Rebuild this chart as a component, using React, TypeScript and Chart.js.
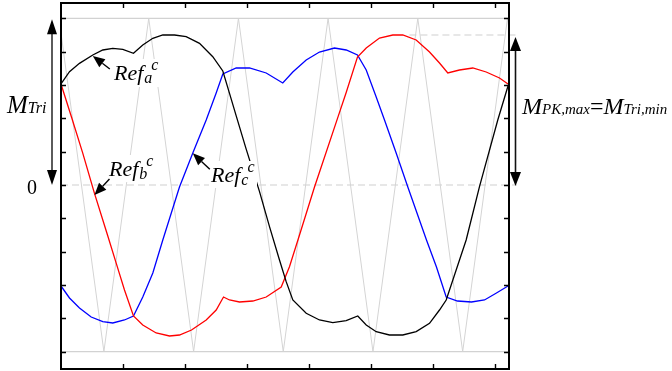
import React, { useEffect, useRef } from "react";
import { Chart, registerables } from "chart.js";

Chart.register(...registerables);

// ---- data (x: carrier-tick units, y: per-unit modulation) ----
const refAX = [0, 0.137, 0.298, 0.513, 0.674, 0.835, 0.997, 1.169, 1.319, 1.481, 1.642, 1.831, 2.019, 2.234, 2.448, 2.61, 2.718, 2.826, 2.987, 3.202, 3.363, 3.524, 3.632, 3.739, 3.955, 4.169, 4.384, 4.6, 4.787, 4.923, 5.084, 5.298, 5.513, 5.729, 5.944, 6.105, 6.213, 6.535, 6.75, 7.045, 7.21];
const refAY = [0.606, 0.68, 0.73, 0.78, 0.81, 0.82, 0.814, 0.79, 0.84, 0.88, 0.9, 0.9, 0.89, 0.85, 0.77, 0.684, 0.55, 0.415, 0.215, -0.04, -0.25, -0.45, -0.58, -0.69, -0.77, -0.81, -0.826, -0.814, -0.786, -0.84, -0.88, -0.9, -0.9, -0.88, -0.83, -0.75, -0.69, -0.33, -0.01, 0.39, 0.594];

const refBX = [0, 0.169, 0.352, 0.54, 0.75, 0.895, 1.024, 1.169, 1.319, 1.535, 1.75, 1.911, 2.105, 2.342, 2.503, 2.621, 2.718, 2.879, 3.094, 3.31, 3.552, 3.685, 3.847, 4.089, 4.46, 4.6, 4.782, 4.923, 5.137, 5.352, 5.513, 5.729, 5.944, 6.105, 6.239, 6.427, 6.642, 6.858, 7.073, 7.21];
const refBY = [0.606, 0.408, 0.19, -0.05, -0.3, -0.475, -0.63, -0.786, -0.84, -0.888, -0.906, -0.9, -0.87, -0.81, -0.75, -0.672, -0.69, -0.702, -0.696, -0.672, -0.612, -0.49, -0.3, -0.012, 0.4, 0.555, 0.768, 0.822, 0.882, 0.9, 0.9, 0.87, 0.798, 0.732, 0.672, 0.69, 0.702, 0.678, 0.642, 0.606];

const refCX = [0, 0.137, 0.298, 0.487, 0.674, 0.835, 1.024, 1.169, 1.319, 1.481, 1.642, 1.911, 2.126, 2.342, 2.503, 2.61, 2.826, 3.04, 3.31, 3.577, 3.739, 3.955, 4.169, 4.411, 4.6, 4.782, 4.923, 5.084, 5.218, 5.406, 5.594, 5.895, 6.056, 6.213, 6.395, 6.621, 6.831, 7.024, 7.21];
const refCY = [-0.606, -0.678, -0.738, -0.792, -0.82, -0.828, -0.81, -0.786, -0.672, -0.528, -0.33, -0.012, 0.192, 0.39, 0.552, 0.666, 0.702, 0.702, 0.672, 0.612, 0.678, 0.75, 0.798, 0.822, 0.81, 0.78, 0.69, 0.528, 0.39, 0.192, -0.012, -0.33, -0.492, -0.672, -0.696, -0.702, -0.69, -0.648, -0.606];

const carrierX = [-0.756, -0.032, 0.692, 1.415, 2.139, 2.862, 3.585, 4.308, 5.032, 5.755, 6.479, 7.202, 7.926];
const carrierY = [-1, 1, -1, 1, -1, 1, -1, 1, -1, 1, -1, 1, -1];

const xTicks = [1, 2, 3, 4, 5, 6, 7];
const yTicks = [-1, -0.8, -0.6, -0.4, -0.2, 0, 0.2, 0.4, 0.6, 0.8, 1];

const X_MIN = 0;
const X_MAX = 7.226;
const Y_MIN = -1.104;
const Y_MAX = 1.092;
const triLevel = 1;
const peakLevel = 0.9;
const peakDashFromX = 5.62;

// label anchors (tips of annotation arrows, in data units)
const tipA = { x: 0.513, y: 0.78 };
const tipB = { x: 0.54, y: -0.06 };
const tipC = { x: 2.126, y: 0.19 };

const SERIF = '"Liberation Serif", "Times New Roman", serif';

type Run = { t: string; size: number; dy?: number; dx?: number; upright?: boolean };

function drawRuns(ctx: CanvasRenderingContext2D, runs: Run[], x: number, y: number) {
  let cx = x;
  ctx.textBaseline = "alphabetic";
  ctx.textAlign = "left";
  for (const r of runs) {
    ctx.font = `${r.upright ? "" : "italic "}${r.size}px ${SERIF}`;
    cx += r.dx || 0;
    ctx.fillText(r.t, cx, y + (r.dy || 0));
    cx += ctx.measureText(r.t).width;
  }
}

function arrowHead(ctx: CanvasRenderingContext2D, tx: number, ty: number, fx: number, fy: number, len: number, w: number) {
  const ang = Math.atan2(ty - fy, tx - fx);
  const bx = tx - Math.cos(ang) * len;
  const by = ty - Math.sin(ang) * len;
  const nx = -Math.sin(ang) * (w / 2);
  const ny = Math.cos(ang) * (w / 2);
  ctx.beginPath();
  ctx.moveTo(tx, ty);
  ctx.lineTo(bx + nx, by + ny);
  ctx.lineTo(bx - nx, by - ny);
  ctx.closePath();
  ctx.fill();
  return { bx, by };
}

function arrow(ctx: CanvasRenderingContext2D, tx: number, ty: number, fx: number, fy: number, len: number, w: number) {
  ctx.save();
  ctx.fillStyle = "#000";
  ctx.strokeStyle = "#000";
  ctx.lineWidth = 1.4;
  const { bx, by } = arrowHead(ctx, tx, ty, fx, fy, len, w);
  ctx.beginPath();
  ctx.moveTo(bx, by);
  ctx.lineTo(fx, fy);
  ctx.stroke();
  ctx.restore();
}

const decorPlugin = {
  id: "decor",
  beforeDatasetsDraw(chart: any) {
    const { ctx, chartArea: a, scales } = chart;
    const xs = scales.x, ys = scales.y;
    ctx.save();
    ctx.strokeStyle = "#d2d2d2";
    ctx.lineWidth = 1.2;
    for (const v of [triLevel, -triLevel]) {
      const py = ys.getPixelForValue(v);
      ctx.beginPath();
      ctx.moveTo(a.left, py);
      ctx.lineTo(a.right, py);
      ctx.stroke();
    }
    ctx.setLineDash([7, 4]);
    ctx.strokeStyle = "#cfcfcf";
    ctx.lineWidth = 1;
    let py = ys.getPixelForValue(0);
    ctx.beginPath();
    ctx.moveTo(a.left, py);
    ctx.lineTo(a.right + 8, py);
    ctx.stroke();
    py = ys.getPixelForValue(peakLevel);
    ctx.beginPath();
    ctx.moveTo(xs.getPixelForValue(peakDashFromX), py);
    ctx.lineTo(a.right + 8, py);
    ctx.stroke();
    ctx.restore();
  },
  afterDatasetsDraw(chart: any) {
    const { ctx, chartArea: a, scales } = chart;
    const xs = scales.x, ys = scales.y;
    ctx.save();
    ctx.strokeStyle = "#000";
    ctx.lineWidth = 2;
    ctx.strokeRect(a.left, a.top, a.right - a.left, a.bottom - a.top);
    ctx.lineWidth = 1.4;
    ctx.beginPath();
    for (const t of xTicks) {
      const px = Math.round(xs.getPixelForValue(t)) + 0.5;
      ctx.moveTo(px, a.top);
      ctx.lineTo(px, a.top + 5);
      ctx.moveTo(px, a.bottom);
      ctx.lineTo(px, a.bottom - 5);
    }
    for (const t of yTicks) {
      const py = Math.round(ys.getPixelForValue(t)) + 0.5;
      ctx.moveTo(a.left, py);
      ctx.lineTo(a.left + 5, py);
      ctx.moveTo(a.right, py);
      ctx.lineTo(a.right - 5, py);
    }
    ctx.stroke();

    // label boxes (white background)
    ctx.fillStyle = "#fff";
    ctx.fillRect(112, 59, 50, 28);
    ctx.fillRect(107, 155, 50, 27);
    ctx.fillRect(209, 161, 48, 27);

    ctx.fillStyle = "#000";
    drawRuns(ctx, [{ t: "Ref", size: 22 }, { t: "a", size: 16, dy: 3, dx: 1 }, { t: "c", size: 16, dy: -10, dx: -1 }], 114, 80);
    drawRuns(ctx, [{ t: "Ref", size: 22 }, { t: "b", size: 16, dy: 3, dx: 1 }, { t: "c", size: 16, dy: -10, dx: -1 }], 109, 176);
    drawRuns(ctx, [{ t: "Ref", size: 22 }, { t: "c", size: 16, dy: 3, dx: 1 }, { t: "c", size: 16, dy: -10, dx: -1 }], 211, 182);

    const pa = { x: xs.getPixelForValue(tipA.x), y: ys.getPixelForValue(tipA.y) };
    const pb = { x: xs.getPixelForValue(tipB.x), y: ys.getPixelForValue(tipB.y) };
    const pc = { x: xs.getPixelForValue(tipC.x), y: ys.getPixelForValue(tipC.y) };
    arrow(ctx, pa.x, pa.y + 1, pa.x + 17, pa.y + 14, 12, 10);
    arrow(ctx, pb.x, pb.y, pb.x + 15, pb.y - 16, 12, 10);
    arrow(ctx, pc.x, pc.y, pc.x + 17, pc.y + 16, 12, 10);

    // left double arrow M_Tri
    const yTop = ys.getPixelForValue(triLevel);
    const yZero = ys.getPixelForValue(0);
    const lx = 52;
    ctx.strokeStyle = "#333";
    ctx.lineWidth = 1.6;
    ctx.beginPath();
    ctx.moveTo(lx, yTop + 12);
    ctx.lineTo(lx, yZero - 12);
    ctx.stroke();
    arrowHead(ctx, lx, yTop + 1, lx, yTop + 30, 15, 10);
    arrowHead(ctx, lx, yZero, lx, yZero - 30, 15, 10);

    // right double arrow
    const yPk = ys.getPixelForValue(peakLevel);
    const rx = a.right + 6.5;
    ctx.strokeStyle = "#111";
    ctx.beginPath();
    ctx.moveTo(rx, yPk + 12);
    ctx.lineTo(rx, yZero - 12);
    ctx.stroke();
    arrowHead(ctx, rx, yPk + 2, rx, yPk + 30, 14, 11);
    arrowHead(ctx, rx, yZero + 1, rx, yZero - 30, 14, 11);

    drawRuns(ctx, [{ t: "M", size: 25 }, { t: "Tri", size: 16 }], 7, 113);
    drawRuns(ctx, [{ t: "0", size: 20, upright: true }], 27, 194);
    drawRuns(
      ctx,
      [
        { t: "M", size: 24 },
        { t: "PK,max", size: 15 },
        { t: "=", size: 24, upright: true },
        { t: "M", size: 24 },
        { t: "Tri,min", size: 15 },
      ],
      522,
      114
    );
    ctx.restore();
  },
};

function pts(xs: number[], ys: number[]) {
  return xs.map((x, i) => ({ x, y: ys[i] }));
}

export default function App() {
  const ref = useRef<HTMLCanvasElement | null>(null);
  useEffect(() => {
    if (!ref.current) return;
    const chart = new Chart(ref.current, {
      type: "line",
      data: {
        datasets: [
          { data: pts(refAX, refAY), borderColor: "#000000", borderWidth: 1.3, pointRadius: 0, tension: 0 },
          { data: pts(refBX, refBY), borderColor: "#ff0000", borderWidth: 1.3, pointRadius: 0, tension: 0 },
          { data: pts(refCX, refCY), borderColor: "#0000ff", borderWidth: 1.3, pointRadius: 0, tension: 0 },
          { data: pts(carrierX, carrierY), borderColor: "#d4d4d4", borderWidth: 1, pointRadius: 0, tension: 0 },
        ],
      },
      options: {
        responsive: false,
        animation: false,
        devicePixelRatio: 1,
        parsing: false as any,
        layout: { padding: { left: 61, right: 163, top: 3, bottom: 2 } },
        plugins: { legend: { display: false }, tooltip: { enabled: false } },
        events: [],
        scales: {
          x: { type: "linear", min: X_MIN, max: X_MAX, display: false },
          y: { type: "linear", min: Y_MIN, max: Y_MAX, display: false },
        },
      },
      plugins: [decorPlugin],
    });
    return () => chart.destroy();
  }, []);
  return (
    <div style={{ position: "absolute", left: 0, top: 0, width: 672, height: 371, background: "#fff" }}>
      <canvas ref={ref} width={672} height={371} style={{ width: 672, height: 371, display: "block" }} />
    </div>
  );
}
